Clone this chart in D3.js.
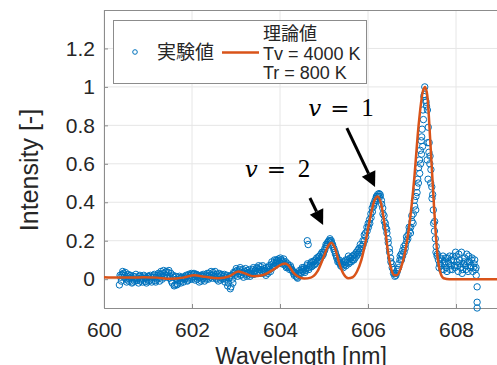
<!DOCTYPE html>
<html>
<head>
<meta charset="utf-8">
<script src="https://cdnjs.cloudflare.com/ajax/libs/d3/7.8.5/d3.min.js"></script>
<style>
  body { margin: 0; background: #fff; overflow: hidden; }
  text { font-family: "Liberation Sans", Arial, "Noto Sans CJK JP", sans-serif; fill: #262626; }
  .grid line { stroke: #e6e6e6; stroke-width: 1px; }
  .frame { fill: none; stroke: #8c8c8c; stroke-width: 1px; }
  .exp { fill: none; stroke: #0072bd; stroke-width: 1px; }
  .theory { fill: none; stroke: #d95319; stroke-width: 2.5px; stroke-linejoin: round; }
  .math { font-family: "DejaVu Serif", "Liberation Serif", serif; fill: #000; }
</style>
</head>
<body>
<script>

// measured spectrum (experiment), two interleaved sweeps of the same series
var expWavelength = [
  600.35,600.38,600.41,600.44,600.47,600.50,600.53,600.56,600.59,600.62,600.65,600.68,600.71,600.74,600.77,
  600.80,600.83,600.86,600.89,600.92,600.95,600.98,601.01,601.04,601.07,601.10,601.13,601.16,601.19,601.22,
  601.25,601.28,601.31,601.34,601.37,601.40,601.43,601.46,601.49,601.52,601.55,601.58,601.61,601.64,601.67,
  601.70,601.73,601.76,601.79,601.82,601.85,601.88,601.91,601.94,601.97,602.00,602.03,602.06,602.09,602.12,
  602.15,602.18,602.21,602.24,602.27,602.30,602.33,602.36,602.39,602.42,602.45,602.48,602.51,602.54,602.57,
  602.60,602.63,602.66,602.69,602.72,602.75,602.78,602.81,602.84,602.87,602.90,602.93,602.96,602.99,603.02,
  603.05,603.08,603.11,603.14,603.17,603.20,603.23,603.26,603.29,603.32,603.35,603.38,603.41,603.44,603.47,
  603.50,603.53,603.56,603.59,603.62,603.65,603.68,603.71,603.74,603.77,603.80,603.83,603.86,603.89,603.92,
  603.95,603.98,604.01,604.04,604.07,604.10,604.13,604.16,604.19,604.22,604.25,604.28,604.31,604.34,604.37,
  604.40,604.43,604.46,604.49,604.52,604.55,604.58,604.61,604.62,604.64,604.66,604.69,604.72,604.75,604.78,
  604.81,604.84,604.87,604.90,604.93,604.96,604.99,605.02,605.05,605.08,605.11,605.14,605.17,605.20,605.23,
  605.26,605.29,605.32,605.35,605.38,605.41,605.44,605.47,605.50,605.53,605.56,605.59,605.62,605.65,605.68,
  605.71,605.74,605.77,605.80,605.83,605.86,605.89,605.92,605.95,605.98,606.01,606.04,606.07,606.10,606.13,
  606.16,606.19,606.22,606.25,606.28,606.31,606.34,606.37,606.40,606.43,606.46,606.49,606.52,606.55,606.58,
  606.61,606.64,606.67,606.70,606.73,606.76,606.79,606.82,606.85,606.88,606.91,606.94,606.97,607.00,607.03,
  607.06,607.09,607.11,607.13,607.15,607.17,607.19,607.21,607.22,607.23,607.24,607.25,607.26,607.27,607.28,
  607.29,607.31,607.32,607.33,607.35,607.36,607.37,607.39,607.41,607.43,607.45,607.47,607.49,607.51,607.53,
  607.55,607.57,607.60,607.63,607.66,607.69,607.72,607.75,607.78,607.81,607.84,607.87,607.90,607.93,607.96,
  607.99,608.02,608.05,608.08,608.11,608.14,608.17,608.20,608.23,608.26,608.29,608.32,608.35,608.38,608.41,
  608.44,608.46,608.48,608.48,608.48
];
var expIntensity = [
  -0.03,0.01,0.025,0.03,0.02,0.0,0.015,-0.01,0.005,0.01,-0.015,0.0,0.012,-0.008,0.005,
  0.015,-0.01,0.008,0.0,0.012,-0.012,0.006,0.015,-0.005,0.01,0.0,0.018,-0.008,0.01,0.02,
  0.005,0.025,0.015,0.03,0.01,0.035,0.02,0.035,0.005,0.03,-0.02,0.01,-0.03,0.0,-0.025,
  0.008,-0.01,0.005,0.0,0.012,0.005,0.015,-0.005,0.01,0.02,0.0,0.025,0.012,0.02,0.0,
  0.018,0.008,-0.01,0.015,0.005,0.022,0.0,0.012,0.03,0.01,0.02,0.035,0.015,0.005,0.025,
  -0.01,0.01,0.02,0.0,0.015,-0.015,0.01,-0.035,0.005,-0.05,0.02,-0.02,0.03,0.04,0.045,
  0.03,0.05,0.02,0.035,0.01,0.04,0.025,0.045,0.03,0.015,0.04,0.05,0.025,0.045,0.06,
  0.035,0.05,0.065,0.04,0.03,0.055,0.02,0.04,0.06,0.05,0.075,0.06,0.085,0.07,0.1,
  0.085,0.095,0.11,0.08,0.095,0.075,0.09,0.065,0.07,0.05,0.06,0.045,0.03,0.035,0.015,
  0.005,0.02,0.035,0.05,0.04,0.06,0.045,0.07,0.2,0.18,0.06,0.08,0.065,0.09,0.075,
  0.1,0.09,0.115,0.1,0.13,0.12,0.14,0.16,0.17,0.19,0.2,0.2,0.19,0.17,0.15,
  0.13,0.11,0.1,0.085,0.07,0.08,0.06,0.09,0.07,0.1,0.08,0.11,0.09,0.12,0.1,
  0.13,0.12,0.15,0.14,0.15,0.16,0.18,0.2,0.22,0.25,0.27,0.29,0.32,0.35,0.38,
  0.41,0.43,0.44,0.445,0.43,0.39,0.34,0.3,0.27,0.24,0.19,0.14,0.09,0.06,0.03,
  0.015,0.03,0.05,0.08,0.12,0.1,0.15,0.14,0.18,0.2,0.23,0.25,0.27,0.3,0.34,
  0.38,0.43,0.48,0.52,0.58,0.62,0.67,0.72,0.74,0.78,0.69,0.88,0.83,0.95,0.96,
  1.0,0.93,0.92,0.9,0.88,0.71,0.79,0.71,0.64,0.57,0.48,0.44,0.29,0.25,0.21,
  0.17,0.12,0.1,0.08,0.07,0.1,0.05,0.09,0.06,0.11,0.08,0.05,0.1,0.12,0.07,
  0.14,0.09,0.04,0.1,0.06,0.03,0.08,0.11,0.05,0.09,0.12,0.06,0.1,0.04,0.08,
  0.05,0.02,-0.04,-0.12,-0.15
];
var expWavelength2 = [
  600.365,600.395,600.425,600.455,600.485,600.515,600.545,600.575,600.605,600.635,600.665,600.695,600.725,600.755,600.785,
  600.815,600.845,600.875,600.905,600.935,600.965,600.995,601.025,601.055,601.085,601.115,601.145,601.175,601.205,601.235,
  601.265,601.295,601.325,601.355,601.385,601.415,601.445,601.475,601.505,601.535,601.565,601.595,601.625,601.655,601.685,
  601.715,601.745,601.775,601.805,601.835,601.865,601.895,601.925,601.955,601.985,602.015,602.045,602.075,602.105,602.135,
  602.165,602.195,602.225,602.255,602.285,602.315,602.345,602.375,602.405,602.435,602.465,602.495,602.525,602.555,602.585,
  602.615,602.645,602.675,602.705,602.735,602.765,602.795,602.825,602.855,602.885,602.915,602.945,602.975,603.005,603.035,
  603.065,603.095,603.125,603.155,603.185,603.215,603.245,603.275,603.305,603.335,603.365,603.395,603.425,603.455,603.485,
  603.515,603.545,603.575,603.605,603.635,603.665,603.695,603.725,603.755,603.785,603.815,603.845,603.875,603.905,603.935,
  603.965,603.995,604.025,604.055,604.085,604.115,604.145,604.175,604.205,604.235,604.265,604.295,604.325,604.355,604.385,
  604.415,604.445,604.475,604.505,604.535,604.565,604.595,604.625,604.655,604.685,604.715,604.745,604.775,604.805,604.835,
  604.865,604.895,604.925,604.955,604.985,605.015,605.045,605.075,605.105,605.135,605.165,605.195,605.225,605.255,605.285,
  605.315,605.345,605.375,605.405,605.435,605.465,605.495,605.525,605.555,605.585,605.615,605.645,605.675,605.705,605.735,
  605.765,605.795,605.825,605.855,605.885,605.915,605.945,605.975,606.005,606.035,606.065,606.095,606.125,606.155,606.185,
  606.215,606.245,606.275,606.305,606.335,606.365,606.395,606.425,606.455,606.485,606.515,606.545,606.575,606.605,606.635,
  606.665,606.695,606.725,606.755,606.785,606.815,606.845,606.875,606.905,606.935,606.965,606.995,607.025,607.055,607.085,
  607.115,607.145,607.175,607.195,607.215,607.345,607.365,607.385,607.405,607.425,607.455,607.485,607.515,607.545,607.575,
  607.615,607.645,607.675,607.705,607.735,607.765,607.795,607.825,607.855,607.885,607.915,607.945,607.975,608.005,608.035,
  608.065,608.095,608.125,608.155,608.185,608.215,608.245,608.275,608.305,608.335,608.365,608.395,608.425,608.455
];
var expIntensity2 = [
  0.02,-0.01,0.04,0.01,0.035,-0.015,0.025,0.0,0.02,-0.02,0.015,-0.01,0.025,0.0,-0.02,
  0.02,0.0,-0.015,0.02,0.005,-0.02,0.015,-0.01,0.02,-0.015,0.01,0.025,-0.015,0.0,0.03,
  -0.01,0.04,0.0,0.045,0.02,0.04,0.01,0.045,0.015,-0.01,0.02,-0.035,0.015,-0.03,-0.005,
  0.015,-0.02,0.01,-0.015,0.0,0.02,-0.01,0.025,0.0,0.03,0.01,0.03,-0.005,0.025,0.01,
  -0.015,0.02,0.0,0.025,-0.01,0.015,0.03,0.0,0.02,0.04,0.005,0.025,0.04,0.0,0.015,
  0.03,-0.005,0.025,0.005,0.025,0.0,0.02,-0.02,0.015,-0.04,0.0,0.035,0.02,0.055,0.015,
  0.04,0.06,0.025,0.05,0.03,0.055,0.015,0.035,0.05,0.025,0.03,0.06,0.04,0.03,0.055,
  0.07,0.03,0.05,0.07,0.045,0.035,0.06,0.03,0.07,0.04,0.09,0.065,0.1,0.08,0.095,
  0.105,0.085,0.1,0.09,0.105,0.08,0.06,0.08,0.06,0.07,0.05,0.04,0.02,0.03,0.01,
  0.03,0.045,0.03,0.06,0.05,0.035,0.055,0.08,0.05,0.07,0.09,0.07,0.095,0.08,0.11,
  0.095,0.12,0.11,0.14,0.13,0.15,0.18,0.18,0.195,0.21,0.2,0.18,0.16,0.14,0.12,
  0.09,0.1,0.08,0.065,0.09,0.075,0.1,0.085,0.12,0.09,0.11,0.1,0.125,0.11,0.14,
  0.13,0.16,0.18,0.17,0.2,0.23,0.24,0.27,0.29,0.31,0.34,0.37,0.39,0.4,0.42,
  0.43,0.43,0.44,0.41,0.37,0.33,0.29,0.26,0.21,0.16,0.11,0.08,0.05,0.03,0.02,
  0.04,0.06,0.1,0.13,0.12,0.17,0.16,0.22,0.21,0.27,0.24,0.33,0.29,0.41,0.36,
  0.45,0.5,0.55,0.6,0.65,0.62,0.52,0.66,0.6,0.5,0.42,0.36,0.3,0.14,0.13,
  0.06,0.11,0.05,0.12,0.08,0.11,0.04,0.09,0.12,0.07,0.05,0.1,0.06,0.12,0.07,
  0.13,0.08,0.14,0.05,0.09,0.07,0.13,0.04,0.09,0.07,0.11,0.06,0.1,0.06
];

// simulated spectrum (theory)
var theoryWavelength = [
  600.0,600.3,600.6,600.9,601.2,601.5,601.8,602.05,602.3,602.6,602.85,603.05,603.2,603.4,603.6,
  603.85,604.05,604.12,604.2,604.3,604.4,604.55,604.7,604.85,605.0,605.1,605.17,605.25,605.35,605.45,
  605.55,605.65,605.75,605.85,605.95,606.05,606.15,606.22,606.3,606.38,606.45,606.52,606.6,606.65,606.75,
  606.85,606.95,607.05,607.15,607.25,607.3,607.35,607.42,607.5,607.58,607.65,607.72,607.85,608.5,609.0,610.0
];
var theoryIntensity = [
  0.01,0.008,0.008,0.01,0.008,0.002,0.008,0.02,0.012,0.005,0.015,0.04,0.03,0.015,0.02,
  0.05,0.078,0.082,0.07,0.035,0.015,0.003,0.008,0.04,0.12,0.175,0.19,0.16,0.08,0.025,
  0.005,0.01,0.04,0.1,0.2,0.32,0.41,0.43,0.39,0.28,0.15,0.06,0.02,0.02,0.06,
  0.15,0.3,0.52,0.8,0.98,1.0,0.95,0.7,0.38,0.12,0.03,0.005,0.0,0.0,0.0,0.0
];

var xTicks = [600, 602, 604, 606, 608];
var yTicks = [0, 0.2, 0.4, 0.6, 0.8, 1, 1.2];
var legendExp = "実験値";
var legendTheory = ["理論値", "Tv = 4000 K", "Tr = 800 K"];

// peak labels and arrows, in data units
var peakNotes = [
  {v: "1", tx: 604.64, ty: 0.849, x1: 605.52, y1: 0.786, x2: 606.16, y2: 0.479},
  {v: "2", tx: 603.2, ty: 0.531, x1: 604.68, y1: 0.422, x2: 604.98, y2: 0.282}
];

var W = 497, H = 365;
var svg = d3.select("body").append("svg")
    .attr("width", W)
    .attr("height", H);

var x = d3.scaleLinear().domain([600, 610]).range([104, 544]);
var y = d3.scaleLinear().domain([-0.15, 1.4]).range([308, 10]);

// grid
var grid = svg.append("g").attr("class", "grid");
grid.selectAll(".gx").data(xTicks).enter().append("line")
    .attr("x1", d => x(d)).attr("x2", d => x(d))
    .attr("y1", y.range()[1]).attr("y2", y.range()[0]);
grid.selectAll(".gy").data(yTicks).enter().append("line")
    .attr("x1", x.range()[0]).attr("x2", x.range()[1])
    .attr("y1", d => y(d)).attr("y2", d => y(d));

// axes
var xAxis = svg.append("g")
    .attr("transform", "translate(0," + y.range()[0] + ")")
    .call(d3.axisBottom(x).tickValues(xTicks).tickSize(-4).tickPadding(14).tickFormat(d3.format("d")));
var yAxis = svg.append("g")
    .attr("transform", "translate(" + x.range()[0] + ",0)")
    .call(d3.axisLeft(y).tickValues(yTicks).tickSize(-4).tickPadding(9).tickFormat(d => d));
[xAxis, yAxis].forEach(function(a) {
  a.select(".domain").attr("stroke", "#8c8c8c");
  a.selectAll(".tick line").attr("stroke", "#8c8c8c");
  a.selectAll(".tick text").style("font-size", "21px").attr("fill", "#262626");
});
xAxis.selectAll(".tick text").attr("dy", "0.72em");
svg.append("line").attr("class", "frame")
    .attr("x1", x.range()[0]).attr("x2", x.range()[1])
    .attr("y1", y.range()[1] + 0.5).attr("y2", y.range()[1] + 0.5);

// experiment points
var expW = expWavelength.concat(expWavelength2);
var expI = expIntensity.concat(expIntensity2);
svg.append("g").selectAll("circle")
    .data(expW)
  .enter().append("circle")
    .attr("class", "exp")
    .attr("cx", d => x(d))
    .attr("cy", (d, i) => y(expI[i]))
    .attr("r", 3.2);

// theory line
var line = d3.line()
    .x(d => x(d))
    .y((d, i) => y(theoryIntensity[i]))
    .curve(d3.curveMonotoneX);
svg.append("path")
    .datum(theoryWavelength)
    .attr("class", "theory")
    .attr("d", line);

// legend
var lg = svg.append("g");
lg.append("rect")
    .attr("x", 113.5).attr("y", 20.5).attr("width", 253).attr("height", 63)
    .attr("fill", "#fff").attr("stroke", "#8c8c8c");
lg.append("circle").attr("class", "exp").attr("cx", 135).attr("cy", 52).attr("r", 2.3);
lg.append("text").attr("x", 157).attr("y", 59).style("font-size", "19px").text(legendExp);
lg.append("line").attr("x1", 222).attr("x2", 259).attr("y1", 52.5).attr("y2", 52.5)
    .attr("stroke", "#d95319").attr("stroke-width", 2.5);
lg.selectAll(".lt").data(legendTheory).enter().append("text")
    .attr("x", 263)
    .attr("y", (d, i) => 40 + i * 19.5)
    .style("font-size", "18px")
    .text(d => d);

// axis labels
svg.append("text")
    .attr("transform", "translate(38,170) rotate(-90)")
    .attr("text-anchor", "middle")
    .style("font-size", "25px")
    .text("Intensity [-]");
svg.append("text")
    .attr("x", 301).attr("y", 364)
    .attr("text-anchor", "middle")
    .style("font-size", "23px")
    .text("Wavelength [nm]");

// peak annotations
peakNotes.forEach(function(n) {
  var t = svg.append("text").attr("class", "math")
      .attr("x", x(n.tx)).attr("y", y(n.ty)).style("font-size", "23px");
  t.append("tspan").style("font-style", "italic").text("v");
  t.append("tspan").attr("x", x(n.tx) + 22).text("=");
  t.append("tspan").attr("x", x(n.tx) + 53)
      .style("font-family", "'Liberation Serif', serif").style("font-size", "25px")
      .text(n.v);

  var x1 = x(n.x1), y1 = y(n.y1), x2 = x(n.x2), y2 = y(n.y2);
  var len = Math.hypot(x2 - x1, y2 - y1), ux = (x2 - x1) / len, uy = (y2 - y1) / len;
  var hl = 15, hw = 7.5;
  var bx = x2 - ux * hl, by = y2 - uy * hl;
  svg.append("line")
      .attr("x1", x1).attr("y1", y1).attr("x2", bx).attr("y2", by)
      .attr("stroke", "#000").attr("stroke-width", 3);
  svg.append("path")
      .attr("d", "M" + x2 + "," + y2 +
                 "L" + (bx - uy * hw) + "," + (by + ux * hw) +
                 "L" + (bx + uy * hw) + "," + (by - ux * hw) + "Z")
      .attr("fill", "#000");
});

</script>
</body>
</html>
